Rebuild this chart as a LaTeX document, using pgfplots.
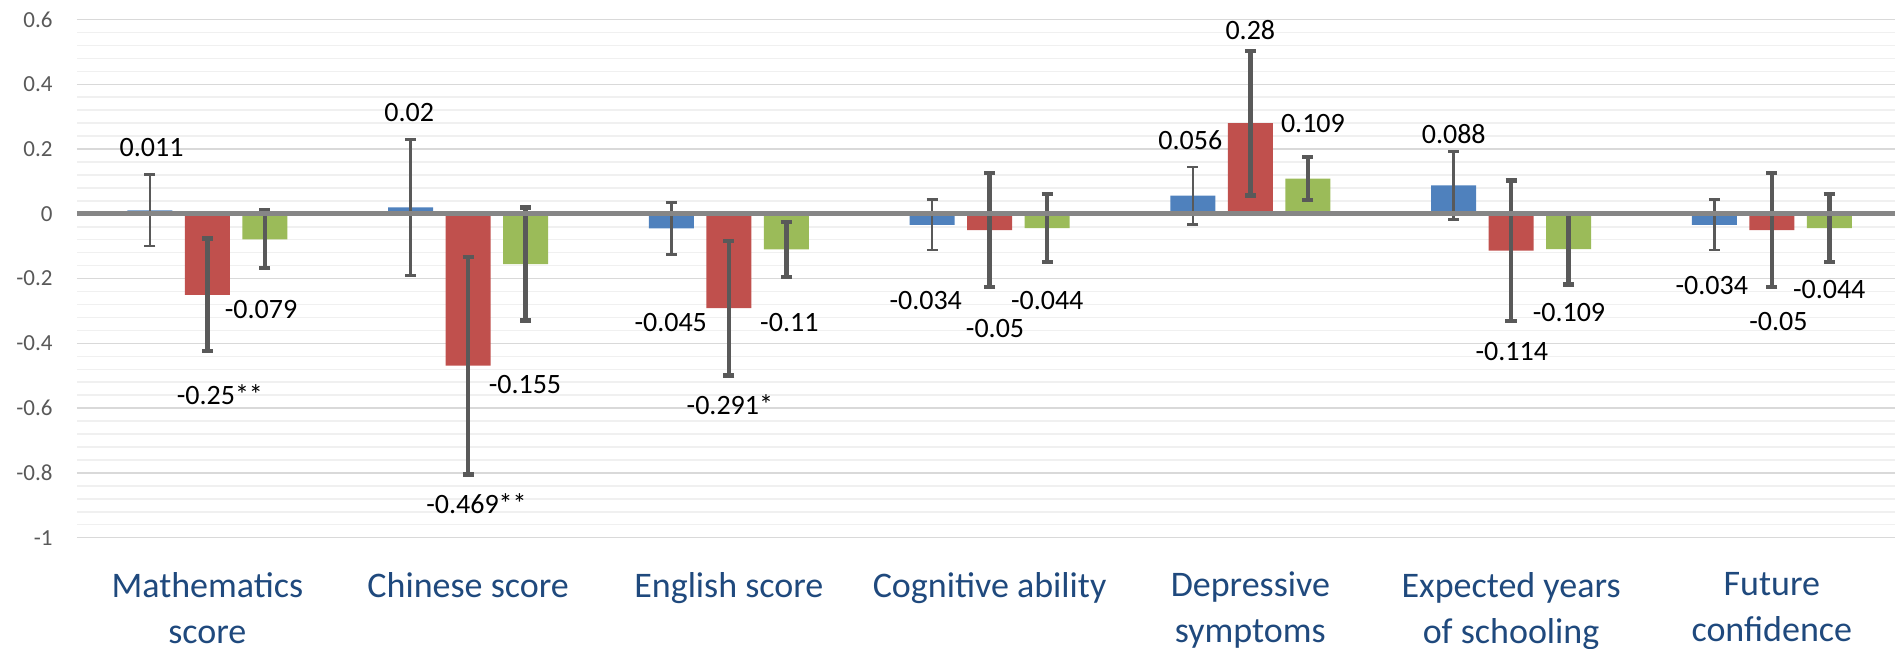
\documentclass[border=0pt]{standalone}
\usepackage{pgfplots}
\pgfplotsset{compat=1.18}
\usepackage{fontspec}
\setmainfont{Carlito}
\definecolor{cblue}{HTML}{4F81BD}
\definecolor{cred}{HTML}{C0504D}
\definecolor{cgreen}{HTML}{9BBB59}
\definecolor{errgray}{HTML}{595959}
\definecolor{zerogray}{HTML}{868686}
\definecolor{majgrid}{HTML}{D9D9D9}
\definecolor{mingrid}{HTML}{F0F0F0}
\definecolor{ticktxt}{HTML}{595959}
\definecolor{cattxt}{HTML}{1F497D}
\begin{document}
\begin{tikzpicture}
\begin{axis}[
  name=ax,
  scale only axis,
  width=912.6pt, height=259.1pt,
  xmin=-0.5, xmax=6.5, ymin=-1, ymax=0.6,
  axis line style={draw=none},
  major tick length=0pt, minor tick length=0pt,
  ytick={-1,-0.8,-0.6,-0.4,-0.2,0,0.2,0.4,0.6},
  yticklabels={-1,-0.8,-0.6,-0.4,-0.2,0,0.2,0.4,0.6},
  minor y tick num=4,
  ymajorgrids, yminorgrids,
  major grid style={majgrid, line width=0.75pt},
  minor grid style={mingrid, line width=0.75pt},
  xtick={0,1,2,3,4,5,6},
  xticklabels={Mathematics\\score, Chinese score, English score, Cognitive ability, Depressive\\symptoms, Expected years\\of schooling, Future\\confidence},
  xticklabel style={align=center, anchor=north, inner sep=0pt, yshift=-17pt, font=\fontsize{18}{23}\selectfont, text=cattxt},
  yticklabel style={font=\fontsize{11.5}{13}\selectfont, text=ticktxt, inner sep=0pt, anchor=east, xshift=-12pt},
  ybar, bar width=0.1726,
  clip=false,
]
\addplot[fill=cblue, draw=none, bar shift=-0.2205,
  error bars/.cd, y dir=both, y explicit,
  error bar style={line width=1.3pt, errgray},
  error mark options={rotate=90, line width=1.3pt, errgray, mark size=2.8pt}]
coordinates {(0,0.011) +- (0,0.11) (1,0.02) +- (0,0.21) (2,-0.045) +- (0,0.08) (3,-0.034) +- (0,0.078) (4,0.056) +- (0,0.089) (5,0.088) +- (0,0.105) (6,-0.034) +- (0,0.078)};
\addplot[fill=cred, draw=none, bar shift=0,
  error bars/.cd, y dir=both, y explicit,
  error bar style={line width=2.2pt, errgray},
  error mark options={rotate=90, line width=2.2pt, errgray, mark size=2.8pt}]
coordinates {(0,-0.25) +- (0,0.174) (1,-0.469) +- (0,0.336) (2,-0.291) +- (0,0.208) (3,-0.05) +- (0,0.176) (4,0.28) +- (0,0.223) (5,-0.114) +- (0,0.217) (6,-0.05) +- (0,0.176)};
\addplot[fill=cgreen, draw=none, bar shift=0.2205,
  error bars/.cd, y dir=both, y explicit,
  error bar style={line width=2.2pt, errgray},
  error mark options={rotate=90, line width=2.2pt, errgray, mark size=2.8pt}]
coordinates {(0,-0.079) +- (0,0.089) (1,-0.155) +- (0,0.174) (2,-0.11) +- (0,0.085) (3,-0.044) +- (0,0.105) (4,0.109) +- (0,0.067) (5,-0.109) +- (0,0.109) (6,-0.044) +- (0,0.105)};
\draw[zerogray, line width=2.5pt] (axis cs:-0.5,0) -- (axis cs:6.5,0);
\begin{scope}[every node/.style={font=\fontsize{14}{16}\selectfont, text=black, inner sep=0pt}]
\node at (axis cs:-0.214,0.206) {0.011};
\node at (axis cs:0.048,-0.559) {-0.25**};
\node at (axis cs:0.206,-0.294) {-0.079};
\node at (axis cs:0.774,0.314) {0.02};
\node at (axis cs:1.032,-0.895) {-0.469**};
\node at (axis cs:1.218,-0.528) {-0.155};
\node at (axis cs:1.777,-0.335) {-0.045};
\node at (axis cs:2.004,-0.59) {-0.291*};
\node at (axis cs:2.232,-0.335) {-0.11};
\node at (axis cs:2.755,-0.268) {-0.034};
\node at (axis cs:3.021,-0.355) {-0.05};
\node at (axis cs:3.221,-0.268) {-0.044};
\node at (axis cs:3.77,0.226) {0.056};
\node at (axis cs:4.0,0.566) {0.28};
\node at (axis cs:4.24,0.28) {0.109};
\node at (axis cs:4.78,0.247) {0.088};
\node at (axis cs:5.003,-0.424) {-0.114};
\node at (axis cs:5.222,-0.306) {-0.109};
\node at (axis cs:5.77,-0.221) {-0.034};
\node at (axis cs:6.025,-0.331) {-0.05};
\node at (axis cs:6.22,-0.233) {-0.044};
\end{scope}
\end{axis}
\pgfresetboundingbox
\path[use as bounding box] ([shift={(-38.5pt,-55.15pt)}]ax.south west) rectangle ([shift={(909pt,268.85pt)}]ax.south west);
\end{tikzpicture}
\end{document}
